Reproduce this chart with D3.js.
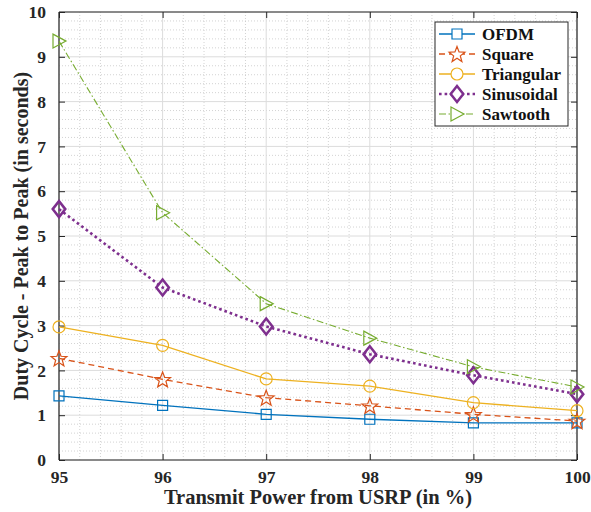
<!DOCTYPE html>
<html><head><meta charset="utf-8">
<script src="https://cdn.jsdelivr.net/npm/d3@7"></script>
<style>body{margin:0;background:#fff}svg{display:block}text{font-family:"Liberation Serif","Times New Roman",serif;font-weight:bold}</style>
</head><body>
<svg id="c" width="591" height="512"></svg>
<script>
const xValues = [95, 96, 97, 98, 99, 100];
const xTicks = [95, 96, 97, 98, 99, 100];
const yTicks = [0, 1, 2, 3, 4, 5, 6, 7, 8, 9, 10];
const seriesNames = ["OFDM", "Square", "Triangular", "Sinusoidal", "Sawtooth"];
const ofdm = [1.43, 1.22, 1.02, 0.91, 0.83, 0.83];
const square = [2.27, 1.80, 1.39, 1.21, 1.02, 0.87];
const triangular = [2.97, 2.56, 1.81, 1.65, 1.28, 1.10];
const sinusoidal = [5.60, 3.85, 2.98, 2.36, 1.89, 1.47];
const sawtooth = [9.35, 5.52, 3.49, 2.72, 2.08, 1.63];
const colors = ["#0072BD", "#D95319", "#EDB120", "#7E2F8E", "#77AC30"];

const series = [
  {name: seriesNames[0], values: ofdm, color: colors[0], dash: null, width: 1.3, marker: "square"},
  {name: seriesNames[1], values: square, color: colors[1], dash: "6,4", width: 1.3, marker: "star"},
  {name: seriesNames[2], values: triangular, color: colors[2], dash: null, width: 1.3, marker: "circle"},
  {name: seriesNames[3], values: sinusoidal, color: colors[3], dash: "2.6,3", width: 2.6, marker: "diamond"},
  {name: seriesNames[4], values: sawtooth, color: colors[4], dash: "7,2.5,1.5,2.5", width: 1.1, marker: "triangle"}
];

const svg = d3.select("#c");
const L = 59, R = 577, T = 12, B = 460;
const x = d3.scaleLinear().domain([95, 100]).range([L, R]);
const y = d3.scaleLinear().domain([0, 10]).range([B, T]);
const font = '"Liberation Serif","Times New Roman",serif';

// minor grid
const g = svg.append("g");
const xMinor = d3.range(95, 100.001, 0.2).filter(v => Math.abs(v - Math.round(v)) > 1e-6);
const yMinor = d3.range(0, 10.001, 0.2).filter(v => Math.abs(v - Math.round(v)) > 1e-6);
g.selectAll(".xm").data(xMinor).enter().append("line")
  .attr("x1", d => x(d)).attr("x2", d => x(d)).attr("y1", T).attr("y2", B)
  .attr("stroke", "#c8c8c8").attr("stroke-width", 0.8).attr("stroke-dasharray", "1,2");
g.selectAll(".ym").data(yMinor).enter().append("line")
  .attr("y1", d => y(d)).attr("y2", d => y(d)).attr("x1", L).attr("x2", R)
  .attr("stroke", "#c8c8c8").attr("stroke-width", 0.8).attr("stroke-dasharray", "1,2");
// major grid
g.selectAll(".xg").data(xTicks).enter().append("line")
  .attr("x1", d => x(d)).attr("x2", d => x(d)).attr("y1", T).attr("y2", B)
  .attr("stroke", "#dcdcdc").attr("stroke-width", 1);
g.selectAll(".yg").data(yTicks).enter().append("line")
  .attr("y1", d => y(d)).attr("y2", d => y(d)).attr("x1", L).attr("x2", R)
  .attr("stroke", "#dcdcdc").attr("stroke-width", 1);

// axes
const xAxis = svg.append("g").attr("transform", `translate(0,${B})`)
  .call(d3.axisBottom(x).tickValues(xTicks).tickSize(-6).tickPadding(11).tickFormat(d3.format("d")));
const yAxis = svg.append("g").attr("transform", `translate(${L},0)`)
  .call(d3.axisLeft(y).tickValues(yTicks).tickSize(-6).tickPadding(13).tickFormat(d3.format("d")));
const xTop = svg.append("g").attr("transform", `translate(0,${T})`)
  .call(d3.axisTop(x).tickValues(xTicks).tickSize(-6).tickFormat(""));
const yRight = svg.append("g").attr("transform", `translate(${R},0)`)
  .call(d3.axisRight(y).tickValues(yTicks).tickSize(-6).tickFormat(""));
[xAxis, yAxis, xTop, yRight].forEach(a => {
  a.attr("font-family", null).attr("font-size", null);
  a.selectAll(".domain").attr("stroke", "#262626").attr("stroke-width", 1.2);
  a.selectAll(".tick line").attr("stroke", "#262626").attr("stroke-width", 1);
  a.selectAll("text").style("font-family", font).style("font-weight", "bold")
    .style("font-size", "17.5px").attr("fill", "#262626");
});
xAxis.selectAll(".domain").attr("d", `M${L},0H${R}`);
xTop.selectAll(".domain").attr("d", `M${L},0H${R}`);
yAxis.selectAll(".domain").attr("d", `M0,${T}V${B}`);
yRight.selectAll(".domain").attr("d", `M0,${T}V${B}`);

// axis titles
svg.append("text").attr("x", 318).attr("y", 504).attr("text-anchor", "middle")
  .style("font-family", font).style("font-weight", "bold").style("font-size", "20.5px").attr("fill", "#262626")
  .text("Transmit Power from USRP (in %)");
svg.append("text").attr("transform", `translate(28,236) rotate(-90)`).attr("text-anchor", "middle")
  .style("font-family", font).style("font-weight", "bold").style("font-size", "20px").attr("fill", "#262626")
  .text("Duty Cycle - Peak to Peak (in seconds)");

// marker paths
function markerPath(type) {
  if (type === "square") return "M-5,-5H5V5H-5Z";
  if (type === "circle") return d3.symbol(d3.symbolCircle, 113)();
  if (type === "diamond") return "M0,-8L6.3,0L0,8L-6.3,0Z";
  if (type === "triangle") return "M-6,-7L7,0L-6,7Z";
  if (type === "star") {
    const pts = [];
    for (let i = 0; i < 10; i++) {
      const r = i % 2 === 0 ? 8.3 : 3.5;
      const a = -Math.PI / 2 + i * Math.PI / 5;
      pts.push([r * Math.cos(a), r * Math.sin(a) + 0.8]);
    }
    return "M" + pts.map(p => p.join(",")).join("L") + "Z";
  }
}

const line = d3.line().x((d, i) => x(xValues[i])).y(d => y(d));
series.forEach(s => {
  svg.append("path").attr("d", line(s.values)).attr("fill", "none")
    .attr("stroke", s.color).attr("stroke-width", s.width)
    .attr("stroke-dasharray", s.dash);
});
series.forEach(s => {
  svg.selectAll(null).data(s.values).enter().append("path")
    .attr("d", markerPath(s.marker))
    .attr("transform", (d, i) => `translate(${x(xValues[i])},${y(d)})`)
    .attr("fill", "none").attr("stroke", s.color)
    .attr("stroke-width", s.marker === "diamond" ? 2.5 : 1.2);
});

// legend
const lg = svg.append("g");
lg.append("rect").attr("x", 435).attr("y", 22).attr("width", 133).attr("height", 104)
  .attr("fill", "#fff").attr("stroke", "#262626").attr("stroke-width", 1);
series.forEach((s, i) => {
  const yy = 34 + i * 20;
  lg.append("line").attr("x1", 439).attr("x2", 475).attr("y1", yy).attr("y2", yy)
    .attr("stroke", s.color).attr("stroke-width", s.width).attr("stroke-dasharray", s.dash);
  lg.append("path").attr("d", markerPath(s.marker)).attr("transform", `translate(457,${yy})`)
    .attr("fill", "#fff").attr("stroke", s.color).attr("stroke-width", s.marker === "diamond" ? 2.5 : 1.2);
  lg.append("text").attr("x", 482).attr("y", yy + 6)
    .style("font-family", font).style("font-weight", "bold").style("font-size", "17px")
    .attr("fill", "#111").text(s.name);
});
</script>
</body></html>
